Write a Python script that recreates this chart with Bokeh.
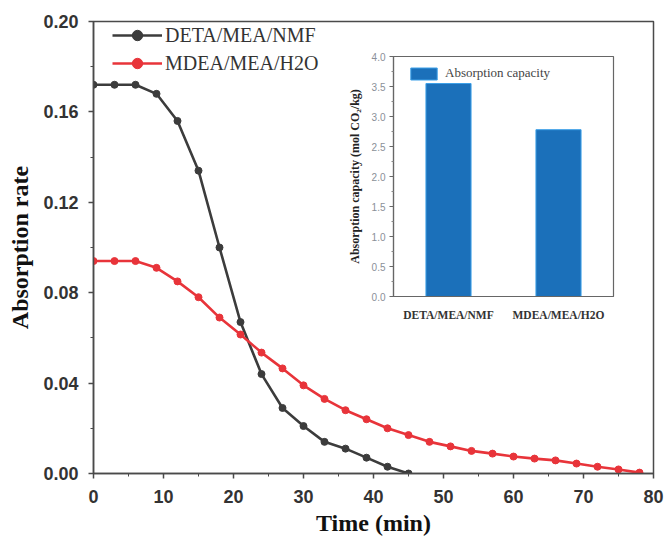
from bokeh.plotting import figure
from bokeh.models import (ColumnDataSource, Legend, LegendItem, Range1d, FixedTicker,
                          NumeralTickFormatter, FactorRange)
from bokeh.layouts import column
from bokeh.embed import file_html
from bokeh.resources import INLINE

# ---- data ----
time_deta = [0, 3, 6, 9, 12, 15, 18, 21, 24, 27, 30, 33, 36, 39, 42, 45]
rate_deta = [0.172, 0.172, 0.172, 0.168, 0.156, 0.134, 0.100, 0.067, 0.044, 0.029,
             0.021, 0.014, 0.011, 0.007, 0.003, 0.000]
time_mdea = [0, 3, 6, 9, 12, 15, 18, 21, 24, 27, 30, 33, 36, 39, 42, 45, 48, 51, 54,
             57, 60, 63, 66, 69, 72, 75, 78]
rate_mdea = [0.094, 0.094, 0.094, 0.091, 0.085, 0.078, 0.069, 0.0615, 0.0535, 0.0465,
             0.039, 0.033, 0.028, 0.024, 0.020, 0.017, 0.014, 0.012, 0.010, 0.0088,
             0.0075, 0.0066, 0.0058, 0.0044, 0.003, 0.0018, 0.0004]
solvents = ["DETA/MEA/NMF", "MDEA/MEA/H2O"]
capacity = [3.55, 2.78]
x_ticks = [0, 10, 20, 30, 40, 50, 60, 70, 80]
y_ticks = [0.0, 0.04, 0.08, 0.12, 0.16, 0.20]
inset_ticks = [0.0, 0.5, 1.0, 1.5, 2.0, 2.5, 3.0, 3.5, 4.0]

FRAME = "#4a4a4a"
BLACK = "#3c3c3c"
RED = "#e8343a"
BLUE = "#1b70ba"

# ---- main figure ----
p = figure(frame_width=560, frame_height=452, x_range=Range1d(0, 80), y_range=Range1d(0, 0.20),
           output_backend="svg", toolbar_location=None,
           min_border_left=93, min_border_right=16, min_border_top=21, min_border_bottom=66)
p.grid.visible = False
p.outline_line_color = FRAME
p.outline_line_width = 1.5

l1 = p.line(time_deta, rate_deta, line_color=BLACK, line_width=2.6)
s1 = p.scatter(time_deta, rate_deta, size=7, fill_color=BLACK, line_color=BLACK)
l2 = p.line(time_mdea, rate_mdea, line_color=RED, line_width=2.6)
s2 = p.scatter(time_mdea, rate_mdea, size=7, fill_color=RED, line_color=RED)

for ax in (p.xaxis[0], p.yaxis[0]):
    ax.axis_line_color = FRAME
    ax.axis_line_width = 1.5
    ax.major_tick_line_color = FRAME
    ax.major_tick_line_width = 1.5
    ax.minor_tick_line_color = FRAME
    ax.major_tick_out = 5
    ax.major_tick_in = 0
    ax.minor_tick_out = 3
    ax.minor_tick_in = 0
    ax.major_label_text_font = "Liberation Sans"
    ax.major_label_text_font_style = "bold"
    ax.major_label_text_font_size = "18px"
    ax.major_label_text_color = "#333333"
    ax.axis_label_text_font = "Liberation Serif"
    ax.axis_label_text_font_style = "bold"
    ax.axis_label_text_font_size = "24px"
    ax.axis_label_text_color = "#111111"

p.xaxis.ticker = FixedTicker(ticks=x_ticks, minor_ticks=[5, 15, 25, 35, 45, 55, 65, 75])
p.yaxis.ticker = FixedTicker(ticks=y_ticks, minor_ticks=[0.02, 0.06, 0.10, 0.14, 0.18])
p.yaxis.formatter = NumeralTickFormatter(format="0.00")
p.xaxis.axis_label = "Time (min)"
p.yaxis.axis_label = "Absorption rate"
p.xaxis.major_label_standoff = 11
p.yaxis.major_label_standoff = 10
p.xaxis.axis_label_standoff = 4
p.yaxis.axis_label_standoff = 7

legend = Legend(items=[LegendItem(label="DETA/MEA/NMF", renderers=[l1, s1]),
                       LegendItem(label="MDEA/MEA/H2O", renderers=[l2, s2])],
                location=(19, 397))
legend.border_line_alpha = 0
legend.background_fill_alpha = 0
legend.label_text_font = "Liberation Serif"
legend.label_text_font_size = "20px"
legend.label_text_color = "#333333"
legend.glyph_width = 50
legend.glyph_height = 26
legend.label_height = 26
legend.spacing = 2
legend.margin = 0
legend.padding = 0
legend.label_standoff = 3
p.add_layout(legend)

# ---- inset figure ----
q = figure(frame_width=220, frame_height=240, x_range=FactorRange(*solvents),
           y_range=Range1d(0, 4.0), output_backend="svg", toolbar_location=None,
           min_border_left=93, min_border_right=16, min_border_top=10, min_border_bottom=35)
q.grid.visible = False
q.outline_line_color = "#666666"
q.outline_line_width = 1.2
q.background_fill_color = "white"
q.border_fill_alpha = 0
src = ColumnDataSource(dict(x=solvents, top=capacity))
b = q.vbar(x="x", top="top", width=0.41, source=src, fill_color=BLUE, line_color="#3da0e8",
           line_width=1)
for ax in (q.xaxis[0], q.yaxis[0]):
    ax.axis_line_color = "#666666"
    ax.axis_line_width = 1.2
    ax.major_tick_line_color = "#666666"
    ax.minor_tick_line_color = "#888888"
    ax.major_tick_out = 4
    ax.major_tick_in = 0
    ax.minor_tick_out = 2
    ax.minor_tick_in = 0
q.yaxis.ticker = FixedTicker(ticks=inset_ticks,
                             minor_ticks=[0.25, 0.75, 1.25, 1.75, 2.25, 2.75, 3.25, 3.75])
q.yaxis.formatter = NumeralTickFormatter(format="0.0")
q.yaxis.major_label_text_font = "Liberation Sans"
q.yaxis.major_label_text_font_size = "10px"
q.yaxis.major_label_text_color = "#8a8f98"
q.yaxis.major_label_standoff = 4
q.yaxis.axis_label = "Absorption capacity (mol CO\u2082/kg)"
q.yaxis.axis_label_text_font = "Liberation Serif"
q.yaxis.axis_label_text_font_style = "bold"
q.yaxis.axis_label_text_font_size = "12px"
q.yaxis.axis_label_text_color = "#222222"
q.yaxis.axis_label_standoff = 7
q.xaxis.major_tick_line_color = None
q.xaxis.major_label_text_font = "Liberation Serif"
q.xaxis.major_label_text_font_style = "bold"
q.xaxis.major_label_text_font_size = "11.5px"
q.xaxis.major_label_text_color = "#333333"
q.xaxis.major_label_standoff = 8

qleg = Legend(items=[LegendItem(label="Absorption capacity", renderers=[b])], location=(14, 215))
qleg.border_line_alpha = 0
qleg.background_fill_alpha = 0
qleg.label_text_font = "Liberation Serif"
qleg.label_text_font_size = "13px"
qleg.label_text_color = "#444444"
qleg.glyph_width = 33
qleg.glyph_height = 15
qleg.label_height = 15
qleg.margin = 0
qleg.padding = 0
qleg.label_standoff = 5
q.add_layout(qleg)

q.margin = (-493, 0, 208, 300)

layout = column(p, q)
open("out.html", "w").write(file_html(layout, INLINE))
